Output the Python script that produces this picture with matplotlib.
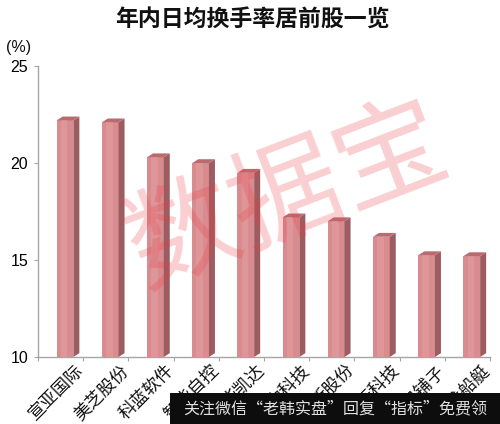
import numpy as np
import matplotlib.pyplot as plt
from matplotlib.patches import Polygon, Rectangle

plt.rcParams['font.family'] = ['Noto Sans CJK SC', 'DejaVu Sans']

title = '年内日均换手率居前股一览'
names = ['宣亚国际', '美芝股份', '科蓝软件', '智能自控', '华凯达',
         '中科技', '新股份', '天科技', '良铺子', '江龙船艇']
rate = [22.2, 22.1, 20.3, 20.0, 19.5, 17.2, 17.0, 16.2, 15.25, 15.2]
yticks = [10, 15, 20, 25]

front_c = '#d98c90'
side_c = '#9c5d61'
top_c = '#b96b70'
axis_c = '#a6a6a6'

fig = plt.figure(figsize=(5, 4.24), dpi=100)
ax = fig.add_axes([0.076, 0.158, 0.904, 0.686])
ax.set_xlim(-0.5, len(names) - 0.5)
ax.set_ylim(10, 25)

# 3d-ish bars
w = 0.37
off = 0.097
dx, dy = 0.133, 0.2
for i, v in enumerate(rate):
    xl = i + off - w / 2
    xr = xl + w
    ax.add_patch(Rectangle((xl, 10), w, v - 10, fc=front_c, ec='none', zorder=3))
    ax.add_patch(Polygon([(xr, 10), (xr + dx, 10 + dy), (xr + dx, v + dy), (xr, v)],
                         closed=True, fc=side_c, ec='none', zorder=3))
    ax.add_patch(Polygon([(xl, v), (xr, v), (xr + dx, v + dy), (xl + dx, v + dy)],
                         closed=True, fc=top_c, ec='none', zorder=3))
    # lighter stripe in the middle of the front face
    ax.add_patch(Rectangle((xl + w * 0.25, 10), w * 0.4, v - 10, fc='#e6a3a6',
                           ec='none', alpha=0.45, zorder=3))

for s in ['top', 'right']:
    ax.spines[s].set_visible(False)
for s in ['left', 'bottom']:
    ax.spines[s].set_color(axis_c)
    ax.spines[s].set_linewidth(1)

ax.set_yticks(yticks)
ax.set_yticklabels([str(t) for t in yticks], fontsize=11.5, family='Liberation Sans')
ax.tick_params(axis='y', length=3, color=axis_c, pad=4)
ax.set_xticks(np.arange(len(names) + 1) - 0.5)
ax.set_xticklabels([])
ax.tick_params(axis='x', length=3, color=axis_c)

for i, n in enumerate(names):
    ax.text(i + 0.3, 9.76, n, rotation=45, ha='right', va='top',
            rotation_mode='anchor', fontsize=12.5, color='#111111', clip_on=False)

fig.text(0.505, 0.953, title, ha='center', va='center', fontsize=16.5,
         fontweight='bold', color='#111111')
fig.text(0.012, 0.888, '(%)', ha='left', va='center', fontsize=11.5,
         family='Liberation Sans', color='#111111')

# watermark
fig.text(0.575, 0.535, '数据宝', ha='center', va='center', rotation=21,
         fontsize=80, color=(0.92, 0.25, 0.28), alpha=0.25, zorder=10)

# banner
fig.patches.append(Rectangle((0.34, 0.0), 0.66, 0.073, transform=fig.transFigure,
                             fc='#0d0d0d', ec='none', zorder=20))
fig.text(0.67, 0.036, '关注微信“老韩实盘”回复“指标”免费领', ha='center', va='center',
         fontsize=11.5, color='#e0e0e0', zorder=21)

fig.savefig('out.png', dpi=100)
